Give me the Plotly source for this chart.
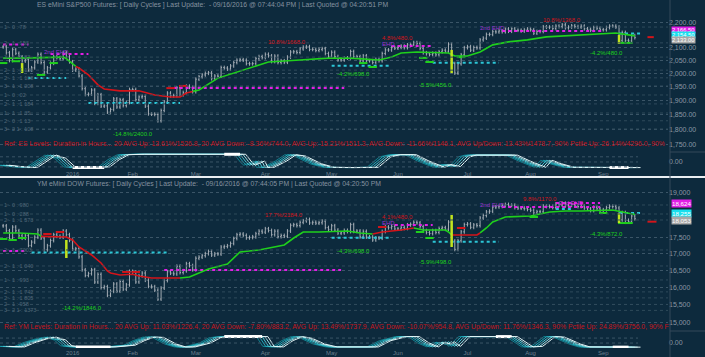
import math
import plotly.graph_objects as go

W, H = 705, 357
PLOT_RIGHT = 668 / W

# ---------------- data ----------------
months = ["2016", "Feb", "Mar", "Apr", "May", "Jun", "Jul", "Aug", "Sep"]
month_idx = [22, 41, 61, 83, 104, 125, 147, 167, 190]

es_close = [
    2102, 2079, 2049, 2091, 2077, 2063, 2047, 2052, 2012, 2021, 2043, 2073, 2041, 2005, 2021, 2038, 2064, 2060, 2056, 2078, 2063, 2044,
    2012, 2016, 1990, 1943, 1922, 1923, 1938, 1890, 1921, 1880, 1881, 1859, 1868, 1906, 1877, 1903, 1882, 1893, 1940,
    1940, 1903, 1913, 1915, 1880, 1853, 1852, 1851, 1829, 1865, 1895, 1927, 1917, 1918, 1946, 1921, 1929, 1952, 1948, 1932,
    1978, 1987, 1994, 2000, 2002, 1980, 1990, 1989, 2022, 2020, 2016, 2028, 2041, 2050, 2052, 2050, 2037, 2036, 2037, 2056, 2064, 2060,
    2073, 2067, 2045, 2066, 2041, 2048, 2042, 2062, 2082, 2083, 2080, 2094, 2101, 2103, 2092, 2092, 2088, 2092, 2095, 2076, 2065,
    2081, 2064, 2051, 2051, 2058, 2059, 2084, 2064, 2064, 2047, 2067, 2048, 2048, 2041, 2053, 2048, 2076, 2090, 2090, 2099, 2097,
    2100, 2105, 2099, 2110, 2112, 2119, 2116, 2096, 2079, 2075, 2072, 2077, 2071, 2083, 2089, 2085, 2113, 2037, 2001, 2036, 2071, 2099,
    2103, 2089, 2100, 2098, 2130, 2137, 2152, 2152, 2163, 2162, 2166, 2163, 2174, 2165, 2175, 2169, 2169, 2166, 2170, 2174,
    2171, 2157, 2164, 2164, 2183, 2181, 2182, 2176, 2186, 2184, 2191, 2179, 2182, 2187, 2184, 2182, 2186, 2175, 2173, 2169, 2180, 2177, 2171,
    2171, 2180, 2186, 2186, 2182, 2128, 2160, 2128, 2126, 2147, 2139,
]

ym_close = [
    17888, 17730, 17478, 17848, 17730, 17568, 17493, 17575, 17265, 17368, 17524, 17750, 17495, 17128, 17252, 17418, 17603, 17553, 17528, 17720, 17603, 17425,
    17149, 17158, 16907, 16515, 16347, 16399, 16516, 16152, 16380, 15988, 16016, 15767, 15882, 16094, 15886, 16167, 15944, 16070, 16466,
    16449, 16154, 16337, 16417, 16205, 16027, 16014, 15915, 15660, 15974, 16196, 16454, 16414, 16392, 16620, 16432, 16485, 16698, 16640, 16517,
    16866, 16900, 16944, 17007, 17074, 16964, 17001, 16996, 17213, 17230, 17251, 17326, 17481, 17602, 17624, 17583, 17503, 17516, 17536, 17634, 17717, 17685,
    17793, 17737, 17604, 17717, 17542, 17577, 17556, 17721, 17908, 17926, 17897, 18004, 18053, 18096, 17983, 18004, 17977, 17990, 18042, 17831, 17774,
    17891, 17751, 17652, 17661, 17740, 17706, 17928, 17711, 17721, 17535, 17711, 17530, 17527, 17436, 17501, 17493, 17706, 17851, 17828, 17873, 17787,
    17790, 17838, 17807, 17920, 17938, 18005, 17985, 17865, 17733, 17675, 17640, 17733, 17675, 17805, 17830, 17780, 18011, 17400, 17140, 17410, 17695, 17930,
    17949, 17841, 17919, 17896, 18147, 18227, 18348, 18372, 18507, 18517, 18534, 18559, 18596, 18570, 18571, 18493, 18474, 18473, 18456, 18432,
    18404, 18314, 18355, 18352, 18544, 18529, 18533, 18496, 18613, 18576, 18636, 18552, 18574, 18597, 18552, 18529, 18547, 18481, 18448, 18395, 18503, 18454, 18401,
    18419, 18492, 18538, 18526, 18479, 18085, 18325, 18067, 18034, 18212, 18124,
]

# trend line
es_line_idx = [0, 5, 19, 20, 23, 24, 27, 30, 32, 37, 43, 48, 53, 56, 58, 60, 62, 68, 78, 84, 94, 103, 110, 116, 119, 123,
               126, 131, 137, 141, 143, 147, 151, 155, 160, 166, 172, 178, 183, 189, 194, 198, 200]
es_line_val = [2058, 2058, 2062, 2056, 2026, 2020, 1994, 1957, 1942, 1935, 1935, 1920, 1913, 1913, 1927, 1933, 1938, 1982,
               2020, 2043, 2051, 2058, 2058, 2055, 2051, 2062, 2078, 2082, 2078, 2078, 2066, 2066, 2082, 2110, 2122, 2130,
               2142, 2146, 2150, 2154, 2158, 2150, 2146]
es_red_from = [23]
es_red_to = [60]

ym_line_idx = [0, 5, 11, 12, 20, 22, 24, 28, 31, 33, 34, 37, 41, 43, 47, 52, 56, 59, 65, 71, 75, 81, 89, 92, 95, 100, 109,
               113, 117, 120, 126, 130, 133, 140, 141, 142, 150, 151, 153, 155, 159, 167, 173, 178, 183, 193, 196, 199, 200]
ym_line_val = [17658, 17658, 17626, 17550, 17530, 17435, 17214, 16966, 16720, 16480, 16420, 16361, 16380, 16331, 16272,
               16272, 16272, 16301, 16540, 16690, 17059, 17121, 17277, 17498, 17690, 17690, 17722, 17658, 17626, 17690,
               17754, 17819, 17754, 17754, 17690, 17594, 17594, 17658, 17819, 18014, 18179, 18212, 18345, 18378, 18378,
               18412, 18345, 18278, 18260]
ym_red_from = [12, 117, 142]
ym_red_to = [56, 130, 151]

# cycle oscillator key points (0 = trough, 100 = crest)
es_osc_idx = [0, 4, 9, 13, 15, 18, 21, 23, 31, 32, 35, 38, 43, 75, 77, 78, 81, 82, 84, 88, 91, 94, 99, 103, 110, 117, 121,
              124, 129, 133, 138, 140, 143, 146, 148, 161, 165, 170, 172, 175, 179, 198, 200]
es_osc_val = [20, 10, 3, 60, 92, 70, 8, 4, 3, 8, 60, 95, 98, 98, 40, 20, 50, 5, 5, 50, 95, 85, 30, 5, 3, 5, 80, 95, 95, 50,
              5, 25, 10, 80, 92, 92, 50, 5, 55, 30, 5, 3, 3]
es_hl_from = [22, 70, 192]
es_hl_to = [32, 75, 198]
es_hl_val = [3, 98, 3]

ym_osc_idx = [0, 5, 8, 12, 15, 18, 20, 23, 34, 40, 43, 46, 49, 53, 56, 59, 64, 67, 70, 82, 84, 87, 90, 93, 96, 100, 104,
              117, 121, 126, 130, 133, 136, 138, 140, 141, 143, 145, 146, 161, 166, 169, 173, 176, 181, 184, 198, 200]
ym_osc_val = [10, 5, 40, 75, 90, 65, 15, 5, 5, 20, 60, 90, 88, 30, 5, 5, 40, 85, 95, 95, 10, 5, 60, 95, 80, 30, 5, 5, 60,
              95, 95, 40, 5, 45, 30, 50, 10, 70, 95, 95, 5, 10, 95, 90, 30, 5, 3, 3]
ym_hl_from = [23, 70, 156, 193]
ym_hl_to = [34, 82, 161, 198]
ym_hl_val = [5, 95, 95, 3]

# vertical signal bars
es_sig_idx = [6, 142, 195]
es_sig_lo = [2001, 2001, 2114]
es_sig_hi = [2039, 2090, 2150]
ym_sig_idx = [20, 142, 195]
ym_sig_lo = [16873, 17214, 17980]
ym_sig_hi = [17435, 18245, 18312]

# dotted level segments: start idx, end idx, price, kind (m magenta, c cyan, r red)
es_lvl_from = [0, 15, 8, 27, 54, 104, 123, 136, 158, 195, 204]
es_lvl_to = [8, 27, 20, 56, 108, 123, 136, 157, 190, 202, 206]
es_lvl_price = [2112, 2074, 1982, 1891, 1945, 2029, 2106, 2040, 2166, 2156, 2141]
es_lvl_kind = ["m", "m", "c", "c", "m", "c", "m", "c", "m", "c", "r"]

ym_lvl_from = [0, 9, 51, 104, 124, 136, 158, 175, 175, 195, 204]
ym_lvl_to = [7, 52, 107, 123, 136, 157, 189, 189, 180, 202, 207]
ym_lvl_price = [17089, 17043, 16510, 17508, 17917, 17380, 18512, 18647, 18445, 18311, 18025]
ym_lvl_kind = ["m", "c", "m", "c", "m", "c", "m", "m", "c", "c", "r"]

# swing markers
es_low_idx = [0, 4, 12, 16, 114, 117, 133, 135, 145, 196, 198]
es_low_price = [2039, 2046, 1994, 2039, 2039, 2024, 2059, 2043, 2062, 2118, 2118]
es_high_idx = [53, 57]
es_high_price = [1945, 1953]
ym_low_idx = [0, 3, 6, 132, 135, 168, 190, 196, 198]
ym_low_price = [17466, 17435, 17498, 17690, 17498, 18179, 18312, 17980, 17980]
ym_high_idx = [14, 18, 39, 42, 120, 145]
ym_high_price = [17626, 17690, 16450, 16450, 17850, 17819]

# text notes
es_note_text = ["10.8%/1668.0", "4.8%/480.0", "10.8%/1368.0", "2nd EHD", "EHD", "2nd EHD",
                "-14.8%/2400.0", "-4.2%/698.0", "-5.5%/456.0", "-4.2%/480.0"]
es_note_idx = [90, 125, 177, 17, 122, 155, 41, 111, 137, 191]
es_note_price = [2121, 2137, 2211, 2083, 2113, 2178, 1785, 1997, 1958, 2078]
es_note_kind = ["r", "r", "r", "p", "p", "p", "g", "g", "g", "g"]

ym_note_text = ["17.7%/2184.0", "4.1%/480.0", "9.8%/1170.0", "EHD", "2nd EHD", "2nd EHD",
                "-4.3%/698.0", "-5.9%/498.0", "-4.3%/872.0", "-14.2%/1846.0"]
ym_note_idx = [89, 125, 170, 122, 155, 180, 111, 137, 191, 25]
ym_note_price = [18245, 18179, 18800, 17980, 18582, 18650, 17089, 16760, 17626, 15410]
ym_note_kind = ["r", "r", "r", "p", "p", "m", "g", "g", "g", "g"]

# faint level labels on the left
es_fib_text = ["1 - 0 : 78", "2 - 1 : 153", "3 - 1 : 1 83", "2 - 1 : 1 138", "2 - 1 : 1 108", "3 - 1 : 1 208",
               "1 - 0 : 02", "2 - 1 : 1 184", "1 - 1 : 1 35", "2 - 0 : 1 13", "3 - 2 1 : 108"]
es_fib_price = [2182, 2118, 2062, 2012, 1983, 1953, 1920, 1888, 1856, 1829, 1801]
ym_fib_text = ["1 - 0 : 980", "1 - 0 : 288", "2 - 1 : 1 573", "2 - 1 : 7003", "2 - 1 : 1 040", "1 - 1 : 993",
               "2 - 1 : 1 742", "2 - 1 : 1 805", "2 - 1 : 958", "3 - 2 1 : 1373"]
ym_fib_price = [18580, 18278, 18080, 17121, 16630, 16213, 15864, 15692, 15507, 15340]

es_ticks = [2200, 2100, 2050, 2000, 1950, 1900, 1850, 1800, 1750]
ym_ticks = [19000, 17500, 17000, 16500, 16000, 15500, 15000]

es_tags = ["2,166.50", "2,154.50", "2,133.00"]
es_tag_price = [2170.0, 2151.0, 2131.0]
ym_tags = ["18,624", "18,255", "18,053"]
ym_tag_price = [18624, 18290, 18053]

es_title = "ES eMini S&P500 Futures: [ Daily Cycles ] Last Update:  - 09/16/2016 @ 07:44:04 PM | Last Quoted @ 04:20:51 PM"
ym_title = "YM eMini DOW Futures: [ Daily Cycles ] Last Update:  - 09/16/2016 @ 07:44:05 PM | Last Quoted @ 04:20:50 PM"
es_ref = ("Ref: ES Levels: Duration in Hours... 20 AVG Up: 13.61%/1526.8, 20 AVG Down: -8.36%/744.0, AVG Up: 15.21%/1511.3, "
          "AVG Down: -11.66%/1146.1, AVG Up/Down: 13.43%/1478.7, 90% Pctile Up: 26.14%/4296.0, 90%")
ym_ref = ("Ref: YM Levels: Duration in Hours... 20 AVG Up: 11.03%/1226.4, 20 AVG Down: -7.80%/883.2, AVG Up: 13.49%/1737.9, "
          "AVG Down: -10.07%/954.8, AVG Up/Down: 11.76%/1346.3, 90% Pctile Up: 24.89%/3756.0, 90% F")

# ---------------- style ----------------
BG = "#0d2a3d"
BAR = "#a6aeb6"
GREEN = "#1fd01c"
RED = "#d4141a"
MAG = "#e21ee6"
CYAN = "#2cc6d6"
PURPLE = "#9a34d0"
YEL = "#c2e41e"
TXT = "#8a98a4"
GRID = "#3b5567"
FIB = "#4f6677"
KIND = {"m": MAG, "c": CYAN, "r": RED, "g": GREEN, "p": PURPLE}
TAGC = [MAG, "#18e0ee", "#a8a8a8"]
OSC_COLORS = ["#12808e", "#1fa8b8", "#48c4d0", "#98dde3", "#e4f5f7"]
FONT = "Liberation Sans, Arial, sans-serif"
XR = [-1, 210.5]


def py(px):
    return 1 - px / H


fig = go.Figure()


def panel(close, lidx, lval, rfrom, rto, oidx, oval, hfrom, hto, hval, sidx, slo, shi,
          lfrom, lto, lprice, lkind, lowi, lowp, hii, hip, xa, ya, xo, yo):
    n = len(close)
    idx = list(range(n))
    opn = [close[0]] + close[:-1]
    wick = 0.0035
    high = [max(a, b) * (1 + wick) for a, b in zip(opn, close)]
    low = [min(a, b) * (1 - wick) for a, b in zip(opn, close)]
    fig.add_trace(go.Ohlc(x=idx, open=opn, high=high, low=low, close=close, xaxis=xa, yaxis=ya,
                          increasing=dict(line=dict(color=BAR, width=1)),
                          decreasing=dict(line=dict(color=BAR, width=1)),
                          tickwidth=0.3, hoverinfo="skip", showlegend=False))
    # level segments
    for a, b, p, k in zip(lfrom, lto, lprice, lkind):
        fig.add_trace(go.Scatter(x=[a, b], y=[p, p], mode="lines", xaxis=xa, yaxis=ya,
                                 line=dict(color=KIND[k], width=2, dash="dot" if k != "r" else "dash"),
                                 hoverinfo="skip", showlegend=False))
    # trend line, colour runs
    runs = []
    starts = [0] + rto
    ends = rfrom + [n - 1]
    for a, b in zip(starts, ends):
        runs.append((a, b, GREEN))
    for a, b in zip(rfrom, rto):
        runs.append((a, b, RED))
    for a, b, col in runs:
        xs = [i for i in lidx if a <= i <= b]
        ys = [v for i, v in zip(lidx, lval) if a <= i <= b]
        fig.add_trace(go.Scatter(x=xs, y=ys, mode="lines", xaxis=xa, yaxis=ya,
                                 line=dict(color=col, width=1.6), hoverinfo="skip", showlegend=False))
    # swing markers
    fig.add_trace(go.Scatter(x=lowi, y=lowp, mode="markers", xaxis=xa, yaxis=ya,
                             marker=dict(symbol="line-ew", size=6, line=dict(color=GREEN, width=2)),
                             hoverinfo="skip", showlegend=False))
    fig.add_trace(go.Scatter(x=hii, y=hip, mode="markers", xaxis=xa, yaxis=ya,
                             marker=dict(symbol="line-ew", size=6, line=dict(color=RED, width=2)),
                             hoverinfo="skip", showlegend=False))
    # signal bars
    for i, a, b in zip(sidx, slo, shi):
        fig.add_trace(go.Scatter(x=[i, i], y=[a, b], mode="lines", xaxis=xa, yaxis=ya,
                                 line=dict(color=YEL, width=2.5), hoverinfo="skip", showlegend=False))
    # oscillator
    for k, col in enumerate(OSC_COLORS):
        lag = (k - 2) * 0.9
        fig.add_trace(go.Scatter(x=[i + lag for i in oidx], y=oval, mode="lines", xaxis=xo, yaxis=yo,
                                 line=dict(color=col, width=1),
                                 hoverinfo="skip", showlegend=False))
    for a, b, v in zip(hfrom, hto, hval):
        fig.add_trace(go.Scatter(x=[a, b], y=[v, v], mode="lines", xaxis=xo, yaxis=yo,
                                 line=dict(color="#ffffff", width=3), hoverinfo="skip", showlegend=False))


panel(es_close, es_line_idx, es_line_val, es_red_from, es_red_to, es_osc_idx, es_osc_val,
      es_hl_from, es_hl_to, es_hl_val, es_sig_idx, es_sig_lo, es_sig_hi,
      es_lvl_from, es_lvl_to, es_lvl_price, es_lvl_kind, es_low_idx, es_low_price, es_high_idx, es_high_price,
      "x", "y", "x2", "y2")
panel(ym_close, ym_line_idx, ym_line_val, ym_red_from, ym_red_to, ym_osc_idx, ym_osc_val,
      ym_hl_from, ym_hl_to, ym_hl_val, ym_sig_idx, ym_sig_lo, ym_sig_hi,
      ym_lvl_from, ym_lvl_to, ym_lvl_price, ym_lvl_kind, ym_low_idx, ym_low_price, ym_high_idx, ym_high_price,
      "x3", "y3", "x4", "y4")

# faint fib grid lines
for p in es_fib_price:
    fig.add_trace(go.Scatter(x=XR, y=[p, p], mode="lines", xaxis="x", yaxis="y",
                             line=dict(color="#2f4a5b", width=1, dash="dot"), hoverinfo="skip", showlegend=False))
for p in ym_fib_price:
    fig.add_trace(go.Scatter(x=XR, y=[p, p], mode="lines", xaxis="x3", yaxis="y3",
                             line=dict(color="#2f4a5b", width=1, dash="dot"), hoverinfo="skip", showlegend=False))
# oscillator dotted guides
for v in [80, 43, 8]:
    fig.add_trace(go.Scatter(x=[-1, 201], y=[v, v], mode="lines", xaxis="x2", yaxis="y2",
                             line=dict(color=GRID, width=1, dash="dot"), hoverinfo="skip", showlegend=False))
for v in [82, 39]:
    fig.add_trace(go.Scatter(x=[-1, 201], y=[v, v], mode="lines", xaxis="x4", yaxis="y4",
                             line=dict(color=GRID, width=1, dash="dot"), hoverinfo="skip", showlegend=False))

# ---------------- axes ----------------
def xax(show):
    d = dict(domain=[0, PLOT_RIGHT], range=XR, showgrid=False, zeroline=False, showline=False,
             ticks="", rangeslider=dict(visible=False), fixedrange=True)
    if show:
        d.update(tickmode="array", tickvals=month_idx, ticktext=months, showticklabels=True,
                 tickfont=dict(size=6, color="#6c7f8d", family=FONT))
    else:
        d.update(showticklabels=False)
    return d


def yprice(dom_px, rng, ticks, fmt, anchor):
    return dict(domain=[py(dom_px[1]), py(dom_px[0])], type="log", range=rng, side="right", anchor=anchor,
                tickmode="array", tickvals=ticks, tickformat=fmt, ticks="",
                tickfont=dict(size=7, color=TXT, family=FONT), showgrid=True, gridcolor=GRID,
                griddash="dot", gridwidth=1, zeroline=False, showline=False, fixedrange=True)


def yosc(dom_px, rng, tick, anchor):
    return dict(domain=[py(dom_px[1]), py(dom_px[0])], range=rng, side="right", anchor=anchor,
                tickmode="array", tickvals=[tick], ticktext=["0.00"], ticks="",
                tickfont=dict(size=7, color=TXT, family=FONT), showgrid=False, zeroline=False,
                showline=False, fixedrange=True)


layout = dict(
    width=W, height=H, margin=dict(l=0, r=0, t=0, b=0),
    paper_bgcolor=BG, plot_bgcolor=BG, showlegend=False,
    xaxis=dict(xax(False), anchor="y"),
    xaxis2=dict(xax(True), anchor="y2", matches="x"),
    xaxis3=dict(xax(False), anchor="y3", matches="x"),
    xaxis4=dict(xax(True), anchor="y4", matches="x"),
    yaxis=yprice((10, 151), [3.23749, 3.35281], es_ticks, ",.2f", "x"),
    yaxis2=yosc((151, 169), [-7.14, 121.4], 43, "x2"),
    yaxis3=yprice((185, 330), [4.17033, 4.28483], ym_ticks, ",.0f", "x3"),
    yaxis4=yosc((330, 348), [-4.35, 152.2], 39, "x4"),
)
fig.update_layout(**layout)

ann = []
# titles
ann.append(dict(text=es_title, xref="paper", yref="paper", x=35 / W, y=py(5), xanchor="left", yanchor="middle",
                showarrow=False, font=dict(size=6.8, color="#8592a0", family=FONT)))
ann.append(dict(text=ym_title, xref="paper", yref="paper", x=35 / W, y=py(184), xanchor="left", yanchor="middle",
                showarrow=False, font=dict(size=6.8, color="#8592a0", family=FONT)))
# reference lines
ann.append(dict(text=es_ref, xref="paper", yref="paper", x=2 / W, y=py(143.5), xanchor="left", yanchor="middle",
                showarrow=False, font=dict(size=6.85, color="#c8141c", family=FONT)))
ann.append(dict(text=ym_ref, xref="paper", yref="paper", x=2 / W, y=py(326.5), xanchor="left", yanchor="middle",
                showarrow=False, font=dict(size=6.85, color="#c8141c", family=FONT)))
# notes
for t, i, p, k, xr, yr in ([(a, b, c, d, "x", "y") for a, b, c, d in zip(es_note_text, es_note_idx, es_note_price, es_note_kind)] +
                           [(a, b, c, d, "x3", "y3") for a, b, c, d in zip(ym_note_text, ym_note_idx, ym_note_price, ym_note_kind)]):
    ann.append(dict(text=t, xref=xr, yref=yr, x=i, y=math.log10(p), showarrow=False, xanchor="center",
                    yanchor="middle", font=dict(size=6, color=KIND[k], family=FONT)))
# faint fib labels
for t, p in zip(es_fib_text, es_fib_price):
    ann.append(dict(text=t, xref="paper", yref="y", x=2 / W, y=math.log10(p), xanchor="left", yanchor="middle",
                    showarrow=False, font=dict(size=5.5, color=FIB, family=FONT)))
for t, p in zip(ym_fib_text, ym_fib_price):
    ann.append(dict(text=t, xref="paper", yref="y3", x=2 / W, y=math.log10(p), xanchor="left", yanchor="middle",
                    showarrow=False, font=dict(size=5.5, color=FIB, family=FONT)))
# price tags
for t, p, c in zip(es_tags, es_tag_price, TAGC):
    ann.append(dict(text=t, xref="paper", yref="y", x=671 / W, y=math.log10(p), xanchor="left", yanchor="middle",
                    showarrow=False, bgcolor=c, borderpad=0, font=dict(size=5.8, color="#ffffff", family=FONT)))
for t, p, c in zip(ym_tags, ym_tag_price, TAGC):
    ann.append(dict(text=t, xref="paper", yref="y3", x=671 / W, y=math.log10(p), xanchor="left", yanchor="middle",
                    showarrow=False, bgcolor=c, borderpad=0, font=dict(size=6.2, color="#ffffff", family=FONT)))
fig.update_layout(annotations=ann)

shapes = [
    dict(type="line", xref="paper", yref="paper", x0=0, x1=1, y0=py(177), y1=py(177),
         line=dict(color="#e9eef2", width=2)),
    dict(type="line", xref="paper", yref="paper", x0=670 / W, x1=670 / W, y0=0, y1=1,
         line=dict(color="#34495a", width=1)),
    dict(type="line", xref="paper", yref="paper", x0=670 / W, x1=1, y0=py(152), y1=py(152),
         line=dict(color="#34495a", width=1)),
    dict(type="line", xref="paper", yref="paper", x0=670 / W, x1=1, y0=py(331), y1=py(331),
         line=dict(color="#34495a", width=1)),
]
fig.update_layout(shapes=shapes)

fig.write_html("out.html")
